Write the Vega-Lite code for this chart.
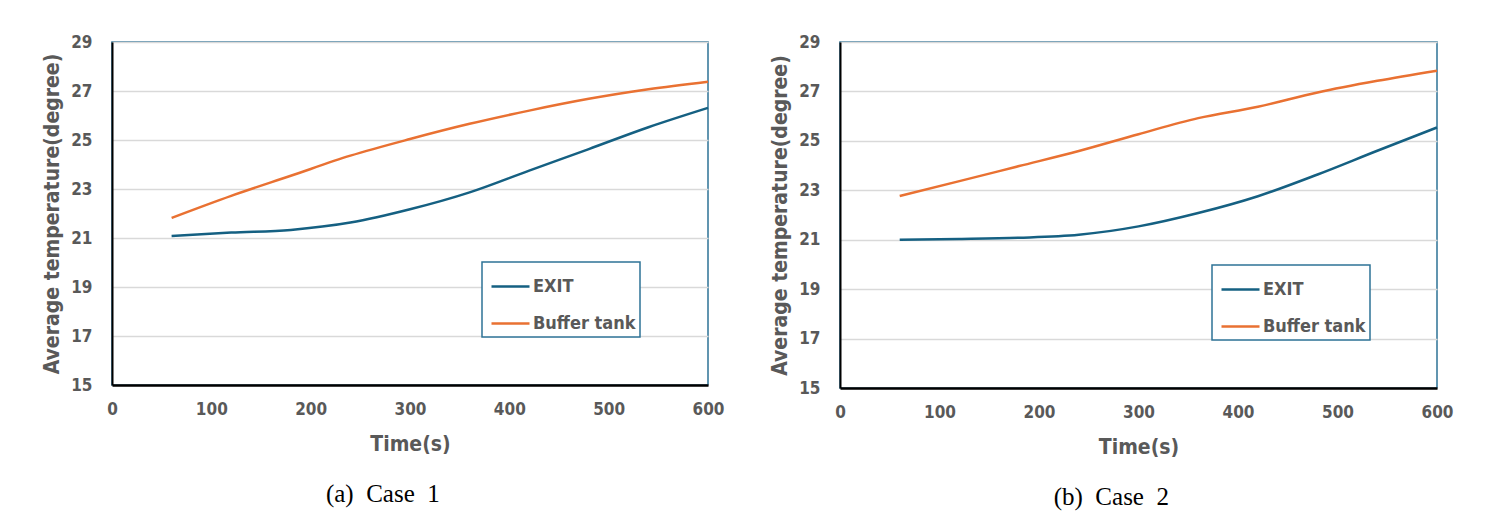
{
  "$schema": "https://vega.github.io/schema/vega-lite/v6.json",
  "background": "white",
  "padding": {"left": 40, "top": 32, "right": 30, "bottom": 10},
  "spacing": 43,
  "datasets": {
    "d": [
      {"panel": "a", "series": "EXIT", "time": 60, "temp": 21.08},
      {"panel": "a", "series": "EXIT", "time": 120, "temp": 21.22},
      {"panel": "a", "series": "EXIT", "time": 180, "temp": 21.33},
      {"panel": "a", "series": "EXIT", "time": 240, "temp": 21.63},
      {"panel": "a", "series": "EXIT", "time": 300, "temp": 22.17},
      {"panel": "a", "series": "EXIT", "time": 360, "temp": 22.86},
      {"panel": "a", "series": "EXIT", "time": 420, "temp": 23.75},
      {"panel": "a", "series": "EXIT", "time": 480, "temp": 24.63},
      {"panel": "a", "series": "EXIT", "time": 540, "temp": 25.52},
      {"panel": "a", "series": "EXIT", "time": 600, "temp": 26.31},
      {"panel": "a", "series": "Buffer tank", "time": 60, "temp": 21.82},
      {"panel": "a", "series": "Buffer tank", "time": 120, "temp": 22.72},
      {"panel": "a", "series": "Buffer tank", "time": 180, "temp": 23.54},
      {"panel": "a", "series": "Buffer tank", "time": 240, "temp": 24.36},
      {"panel": "a", "series": "Buffer tank", "time": 300, "temp": 25.04},
      {"panel": "a", "series": "Buffer tank", "time": 360, "temp": 25.66},
      {"panel": "a", "series": "Buffer tank", "time": 420, "temp": 26.2},
      {"panel": "a", "series": "Buffer tank", "time": 480, "temp": 26.68},
      {"panel": "a", "series": "Buffer tank", "time": 540, "temp": 27.07},
      {"panel": "a", "series": "Buffer tank", "time": 600, "temp": 27.38},
      {"panel": "b", "series": "EXIT", "time": 60, "temp": 21.0},
      {"panel": "b", "series": "EXIT", "time": 120, "temp": 21.03},
      {"panel": "b", "series": "EXIT", "time": 180, "temp": 21.08},
      {"panel": "b", "series": "EXIT", "time": 240, "temp": 21.2},
      {"panel": "b", "series": "EXIT", "time": 300, "temp": 21.54},
      {"panel": "b", "series": "EXIT", "time": 360, "temp": 22.08},
      {"panel": "b", "series": "EXIT", "time": 420, "temp": 22.76},
      {"panel": "b", "series": "EXIT", "time": 480, "temp": 23.64},
      {"panel": "b", "series": "EXIT", "time": 540, "temp": 24.6},
      {"panel": "b", "series": "EXIT", "time": 600, "temp": 25.54},
      {"panel": "b", "series": "Buffer tank", "time": 60, "temp": 22.77},
      {"panel": "b", "series": "Buffer tank", "time": 120, "temp": 23.37},
      {"panel": "b", "series": "Buffer tank", "time": 180, "temp": 23.98},
      {"panel": "b", "series": "Buffer tank", "time": 240, "temp": 24.59},
      {"panel": "b", "series": "Buffer tank", "time": 300, "temp": 25.27},
      {"panel": "b", "series": "Buffer tank", "time": 360, "temp": 25.92},
      {"panel": "b", "series": "Buffer tank", "time": 420, "temp": 26.38},
      {"panel": "b", "series": "Buffer tank", "time": 480, "temp": 26.96},
      {"panel": "b", "series": "Buffer tank", "time": 540, "temp": 27.43},
      {"panel": "b", "series": "Buffer tank", "time": 600, "temp": 27.84}
    ]
  },
  "config": {
    "view": {"stroke": "#2E7396", "strokeWidth": 1.5},
    "axis": {
      "labelFont": "DejaVu Sans Condensed, Roboto, sans-serif",
      "labelFontWeight": "bold",
      "labelFontSize": 17,
      "labelColor": "#595959",
      "titleFont": "DejaVu Sans Condensed, Roboto, sans-serif",
      "titleFontWeight": "bold",
      "titleFontSize": 21,
      "titleColor": "#595959",
      "domainColor": "black",
      "ticks": false,
      "labelFlush": false
    },
    "legend": {
      "orient": "none",
      "legendX": 370,
      "legendY": 220,
      "strokeColor": "#2E7396",
      "strokeWidth": 1.5,
      "fillColor": "white",
      "padding": 4,
      "symbolOffset": 4,
      "symbolType": "stroke",
      "symbolSize": 1444,
      "symbolStrokeWidth": 2.5,
      "labelFont": "DejaVu Sans Condensed, Roboto, sans-serif",
      "labelFontWeight": "bold",
      "labelFontSize": 18,
      "labelColor": "#595959",
      "labelOffset": 2,
      "rowPadding": 7
    },
    "title": {
      "font": "Liberation Serif",
      "fontSize": 25,
      "fontWeight": "normal",
      "color": "black",
      "orient": "bottom",
      "anchor": "middle",
      "frame": "bounds",
      "offset": 28
    }
  },
  "resolve": {"scale": {"color": "independent"}, "legend": {"color": "independent"}},
  "hconcat": [
    {
      "width": 596,
      "height": 343,
      "data": {"name": "d"},
      "transform": [{"filter": "datum.panel == 'a'"}],
      "title": {"text": "(a)\u00a0 Case\u00a0 1"},
      "mark": {"type": "line", "interpolate": "monotone", "strokeWidth": 2.5},
      "encoding": {
        "x": {"field": "time", "type": "quantitative", "scale": {"domain": [0, 600], "nice": false},
          "axis": {"title": "Time(s)", "values": [0, 100, 200, 300, 400, 500, 600], "grid": false, "domainWidth": 2.5, "labelPadding": 16, "titlePadding": 16}},
        "y": {"field": "temp", "type": "quantitative", "scale": {"domain": [15, 29], "nice": false, "zero": false},
          "axis": {"title": "Average temperature(degree)", "values": [15, 17, 19, 21, 23, 25, 27, 29], "grid": true, "gridColor": "#d9d9d9", "gridWidth": 1.5, "domainWidth": 2, "labelPadding": 20, "titlePadding": 8}},
        "color": {"field": "series", "type": "nominal", "sort": ["EXIT", "Buffer tank"],
          "scale": {"domain": ["EXIT", "Buffer tank"], "range": ["#156082", "#E97132"]},
          "legend": {"title": null}}
      }
    },
    {
      "width": 597,
      "height": 346,
      "data": {"name": "d"},
      "transform": [{"filter": "datum.panel == 'b'"}],
      "title": {"text": "(b)\u00a0 Case\u00a0 2"},
      "mark": {"type": "line", "interpolate": "monotone", "strokeWidth": 2.5},
      "encoding": {
        "x": {"field": "time", "type": "quantitative", "scale": {"domain": [0, 600], "nice": false},
          "axis": {"title": "Time(s)", "values": [0, 100, 200, 300, 400, 500, 600], "grid": false, "domainWidth": 2.5, "labelPadding": 16, "titlePadding": 16}},
        "y": {"field": "temp", "type": "quantitative", "scale": {"domain": [15, 29], "nice": false, "zero": false},
          "axis": {"title": "Average temperature(degree)", "values": [15, 17, 19, 21, 23, 25, 27, 29], "grid": true, "gridColor": "#d9d9d9", "gridWidth": 1.5, "domainWidth": 2, "labelPadding": 20, "titlePadding": 8}},
        "color": {"field": "series", "type": "nominal", "sort": ["EXIT", "Buffer tank"],
          "scale": {"domain": ["EXIT", "Buffer tank"], "range": ["#156082", "#E97132"]},
          "legend": {"title": null, "legendX": 372, "legendY": 223}}
      }
    }
  ]
}
